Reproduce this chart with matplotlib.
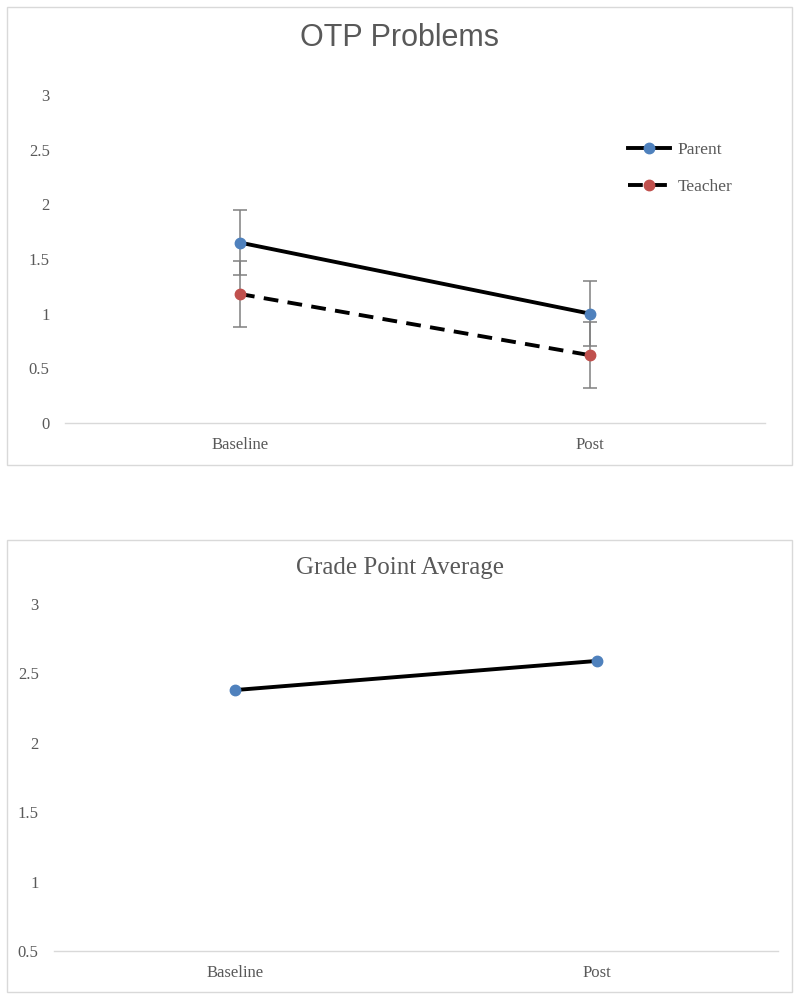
import matplotlib
matplotlib.use("Agg")
import matplotlib.pyplot as plt
from matplotlib.patches import Rectangle

# Data
CATEGORIES = ["Baseline", "Post"]
PARENT = [1.65, 1.00]
PARENT_ERR = [0.30, 0.30]
TEACHER = [1.18, 0.62]
TEACHER_ERR = [0.30, 0.30]
GPA = [2.38, 2.59]

OTP_TICKS = [0, 0.5, 1, 1.5, 2, 2.5, 3]
GPA_TICKS = [0.5, 1, 1.5, 2, 2.5, 3]

BLUE = "#4F81BD"
RED = "#C0504D"
GREY_TEXT = "#595959"
GREY_BAR = "#808080"
AXIS_LINE = "#D9D9D9"
SERIF = "Liberation Serif"


def styleAxes(ax, yticks):
    """Excel-like look: no spines except a light bottom line."""
    for side in ["left", "right", "top"]:
        ax.spines[side].set_visible(False)
    ax.spines["bottom"].set_color(AXIS_LINE)
    ax.spines["bottom"].set_linewidth(1.0)
    ax.set_xticks(range(len(CATEGORIES)))
    ax.set_xticklabels(CATEGORIES, fontfamily=SERIF, fontsize=12, color=GREY_TEXT)
    ax.set_yticks(yticks)
    ax.set_yticklabels([f"{t:g}" for t in yticks], fontfamily=SERIF,
                       fontsize=12, color=GREY_TEXT)
    ax.tick_params(axis="x", length=0, pad=10)
    ax.tick_params(axis="y", length=0, pad=11)
    ax.set_xlim(-0.5, len(CATEGORIES) - 0.5)
    ax.set_facecolor("none")


fig = plt.figure(figsize=(8, 9.98), dpi=100)

# Chart frames
fig.patches.append(Rectangle((7 / 800, 1 - 465 / 998), 785 / 800, 458 / 998,
                             transform=fig.transFigure, fill=False,
                             edgecolor="#D9D9D9", linewidth=1))
fig.patches.append(Rectangle((7 / 800, 1 - 992 / 998), 785 / 800, 452 / 998,
                             transform=fig.transFigure, fill=False,
                             edgecolor="#D9D9D9", linewidth=1))

# ---- OTP Problems ----
ax1 = fig.add_axes([65 / 800, 1 - 423 / 998, 700 / 800, 328 / 998])
x = range(len(CATEGORIES))
ax1.errorbar(x, PARENT, yerr=PARENT_ERR, fmt="none", ecolor=GREY_BAR,
             elinewidth=1.1, capsize=5, capthick=1.1, zorder=2)
ax1.errorbar(x, TEACHER, yerr=TEACHER_ERR, fmt="none", ecolor=GREY_BAR,
             elinewidth=1.1, capsize=5, capthick=1.1, zorder=2)
ax1.plot(x, PARENT, color="black", linewidth=2.8, marker="o",
         markersize=7.5, markerfacecolor=BLUE, markeredgecolor=BLUE,
         label="Parent", zorder=3)
ax1.plot(x, TEACHER, color="black", linewidth=2.8, linestyle=(0, (3.8, 2.4)),
         marker="o", markersize=7.5, markerfacecolor=RED, markeredgecolor=RED,
         label="Teacher", zorder=3)
ax1.set_ylim(0, 3)
styleAxes(ax1, OTP_TICKS)
leg = ax1.legend(loc="upper left", bbox_to_anchor=(0.782, 0.905), frameon=False,
                 prop={"family": SERIF, "size": 12.5}, labelspacing=1.2,
                 handlelength=2.4, handletextpad=0.45)
for t in leg.get_texts():
    t.set_color(GREY_TEXT)
fig.text(0.5, 1 - 38 / 998, "OTP Problems", ha="center", va="center",
         fontfamily="Liberation Sans", fontsize=22, color=GREY_TEXT)

# ---- Grade Point Average ----
ax2 = fig.add_axes([54 / 800, 1 - 951 / 998, 724 / 800, 347 / 998])
ax2.plot(x, GPA, color="black", linewidth=2.8, marker="o", markersize=7.5,
         markerfacecolor=BLUE, markeredgecolor=BLUE, zorder=3)
ax2.set_ylim(0.5, 3)
styleAxes(ax2, GPA_TICKS)
fig.text(0.5, 1 - 568 / 998, "Grade Point Average", ha="center", va="center",
         fontfamily=SERIF, fontsize=18, color=GREY_TEXT)

plt.savefig("out.png", dpi=100)
